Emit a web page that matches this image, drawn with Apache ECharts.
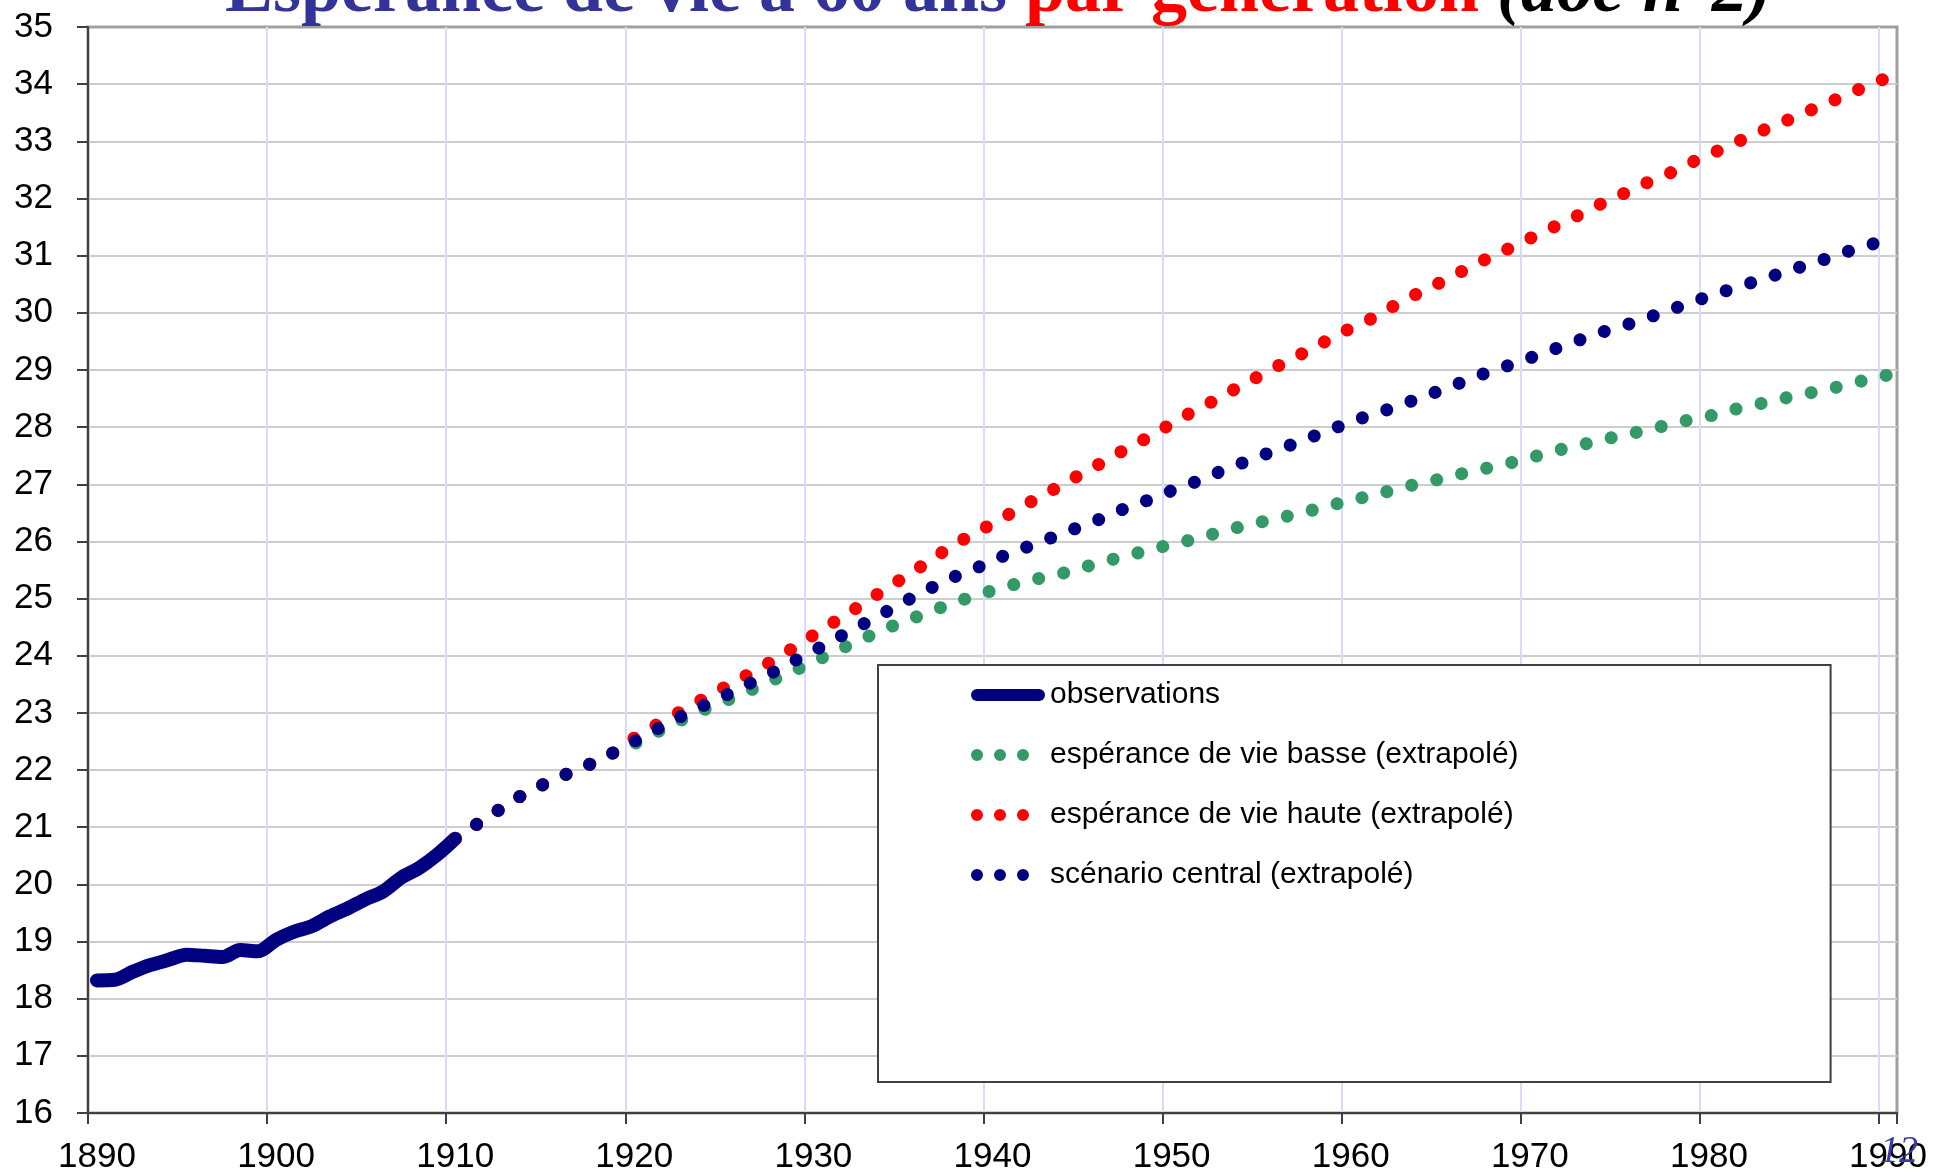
<!DOCTYPE html>
<html>
<head>
<meta charset="utf-8">
<script src="https://cdn.jsdelivr.net/npm/echarts@6/dist/echarts.min.js"></script>
<style>
html, body { margin: 0; padding: 0; background: #ffffff; }
#chart { width: 1952px; height: 1175px; }
</style>
</head>
<body>
<div id="chart"></div>
<script>
// Generation years (category axis)
const categories = [
  '1890','1891','1892','1893','1894','1895','1896','1897','1898','1899',
  '1900','1901','1902','1903','1904','1905','1906','1907','1908','1909',
  '1910','1911','1912','1913','1914','1915','1916','1917','1918','1919',
  '1920','1921','1922','1923','1924','1925','1926','1927','1928','1929',
  '1930','1931','1932','1933','1934','1935','1936','1937','1938','1939',
  '1940','1941','1942','1943','1944','1945','1946','1947','1948','1949',
  '1950','1951','1952','1953','1954','1955','1956','1957','1958','1959',
  '1960','1961','1962','1963','1964','1965','1966','1967','1968','1969',
  '1970','1971','1972','1973','1974','1975','1976','1977','1978','1979',
  '1980','1981','1982','1983','1984','1985','1986','1987','1988','1989',
  '1990'
];

// Observations, generations 1890 to 1910
const observations = [
  18.32, 18.33, 18.47, 18.59, 18.68, 18.77, 18.75, 18.73, 18.85, 18.83,
  19.03, 19.17, 19.27, 19.44, 19.58, 19.74, 19.88, 20.12, 20.29, 20.52,
  20.80
];

// Extrapolated series, generations 1910 to 1990
const basse = [
  20.80, 21.01, 21.21, 21.42, 21.61, 21.76, 21.90, 22.03, 22.17, 22.33,
  22.46, 22.62, 22.78, 22.93, 23.07, 23.20, 23.33, 23.47, 23.61, 23.75,
  23.89, 24.04, 24.19, 24.33, 24.47, 24.59, 24.71, 24.83, 24.94, 25.05,
  25.14, 25.23, 25.31, 25.38, 25.45, 25.54, 25.63, 25.71, 25.79, 25.87,
  25.95, 26.02, 26.10, 26.19, 26.27, 26.34, 26.41, 26.48, 26.56, 26.64,
  26.72, 26.79, 26.87, 26.95, 27.03, 27.09, 27.17, 27.24, 27.31, 27.38,
  27.46, 27.55, 27.63, 27.70, 27.77, 27.85, 27.91, 27.98, 28.07, 28.13,
  28.19, 28.28, 28.35, 28.42, 28.49, 28.56, 28.62, 28.69, 28.76, 28.85,
  28.91
];
const haute = [
  20.80, 21.01, 21.21, 21.42, 21.61, 21.76, 21.90, 22.03, 22.17, 22.33,
  22.56, 22.75, 22.92, 23.10, 23.27, 23.44, 23.61, 23.78, 23.96, 24.16,
  24.36, 24.56, 24.75, 24.96, 25.16, 25.36, 25.56, 25.77, 25.97, 26.14,
  26.31, 26.49, 26.67, 26.84, 27.01, 27.19, 27.36, 27.54, 27.70, 27.88,
  28.06, 28.24, 28.40, 28.57, 28.75, 28.91, 29.08, 29.24, 29.40, 29.57,
  29.73, 29.87, 30.05, 30.22, 30.38, 30.53, 30.69, 30.86, 31.00, 31.15,
  31.30, 31.45, 31.60, 31.75, 31.91, 32.05, 32.20, 32.34, 32.47, 32.63,
  32.76, 32.91, 33.05, 33.19, 33.32, 33.45, 33.59, 33.72, 33.86, 33.99,
  34.12
];
const central = [
  20.80, 21.01, 21.21, 21.42, 21.61, 21.76, 21.90, 22.03, 22.17, 22.33,
  22.50, 22.67, 22.84, 23.00, 23.15, 23.29, 23.45, 23.60, 23.75, 23.92,
  24.08, 24.26, 24.42, 24.59, 24.76, 24.93, 25.10, 25.25, 25.40, 25.52,
  25.66, 25.80, 25.91, 26.03, 26.15, 26.27, 26.39, 26.53, 26.64, 26.76,
  26.89, 27.00, 27.13, 27.26, 27.38, 27.50, 27.61, 27.73, 27.85, 27.97,
  28.09, 28.20, 28.30, 28.41, 28.53, 28.64, 28.76, 28.89, 28.99, 29.10,
  29.21, 29.32, 29.44, 29.55, 29.66, 29.75, 29.85, 29.96, 30.07, 30.18,
  30.29, 30.39, 30.49, 30.59, 30.69, 30.79, 30.89, 30.99, 31.10, 31.19,
  31.29
];

const yTicks = { min: 16, max: 35, interval: 1 };
const obsStart = '1890';
const extrapStart = '1910';

const seriesNames = [
  'observations',
  'espérance de vie basse (extrapolé)',
  'espérance de vie haute (extrapolé)',
  'scénario central (extrapolé)'
];

function placeOn(values, startYear) {
  const start = categories.indexOf(startYear);
  return categories.map(function (c, i) {
    const k = i - start;
    return (k >= 0 && k < values.length) ? values[k] : null;
  });
}

const lineIcon = 'path://M6,0 L68,0 A6,6 0 0 1 68,12 L6,12 A6,6 0 0 1 6,0 Z';
const dotsIcon = 'path://M74,12 M0,0 M0,6 A6,6 0 1 0 12,6 A6,6 0 1 0 0,6 Z ' +
  'M23,6 A6,6 0 1 0 35,6 A6,6 0 1 0 23,6 Z ' +
  'M46,6 A6,6 0 1 0 58,6 A6,6 0 1 0 46,6 Z';

const dotLine = function (color, gap) {
  return { color: color, width: 13, type: [0.1, gap], cap: 'round', join: 'round' };
};

const axisFont = '"Liberation Sans", Arial, sans-serif';
const titleFont = '"Liberation Serif", "Times New Roman", serif';

const chart = echarts.init(document.getElementById('chart'), null, { renderer: 'canvas' });
chart.setOption({
  animation: false,
  backgroundColor: '#ffffff',
  title: [{
    text: '{a|Espérance de vie à 60 ans }{b|par génération }{c|(doc n°2)}',
    left: 225,
    top: -44,
    padding: 0,
    z: 20,
    textStyle: {
      rich: {
        a: { color: '#333399', fontSize: 72, lineHeight: 72, fontWeight: 'bold', fontFamily: titleFont },
        b: { color: '#ff0000', fontSize: 72, lineHeight: 72, fontWeight: 'bold', fontFamily: titleFont },
        c: { color: '#000000', fontSize: 72, lineHeight: 72, fontWeight: 'bold', fontStyle: 'italic', fontFamily: titleFont }
      }
    }
  }, {
    text: '12',
    left: 1880,
    top: 1133,
    padding: 0,
    z: 20,
    textStyle: { color: '#3b3bb0', fontSize: 38, fontStyle: 'italic', fontWeight: 'normal', fontFamily: titleFont }
  }],
  grid: {
    left: 88, right: 55, top: 27, bottom: 60,
    show: true, borderColor: '#a0a0a0', borderWidth: 3, backgroundColor: 'transparent'
  },
  legend: {
    orient: 'vertical',
    left: 878,
    top: 665,
    padding: [15, 312, 192, 93],
    itemGap: 30,
    itemWidth: 74,
    itemHeight: 12,
    backgroundColor: '#ffffff',
    borderColor: '#404040',
    borderWidth: 2,
    borderRadius: 0,
    selectedMode: false,
    z: 10,
    itemStyle: { borderWidth: 0 },
    textStyle: { color: '#000000', fontSize: 30, fontFamily: axisFont },
    data: [
      { name: seriesNames[0], icon: lineIcon },
      { name: seriesNames[1], icon: dotsIcon },
      { name: seriesNames[2], icon: dotsIcon },
      { name: seriesNames[3], icon: dotsIcon }
    ]
  },
  xAxis: {
    type: 'category',
    data: categories,
    boundaryGap: true,
    axisLine: { show: true, lineStyle: { color: '#404040', width: 2 } },
    axisTick: { show: true, interval: 9, alignWithLabel: false, length: 11, lineStyle: { color: '#404040', width: 2 } },
    axisLabel: { interval: 9, margin: 27, color: '#000000', fontSize: 35, fontFamily: axisFont },
    splitLine: { show: true, interval: 9, showMinLine: false, showMaxLine: false, lineStyle: { color: '#dadaff', width: 2 } }
  },
  yAxis: {
    type: 'value',
    min: yTicks.min,
    max: yTicks.max,
    interval: yTicks.interval,
    axisLine: { show: true, lineStyle: { color: '#404040', width: 2 } },
    axisTick: { show: true, inside: false, length: 11, lineStyle: { color: '#404040', width: 2 } },
    axisLabel: { margin: 35, color: '#000000', fontSize: 35, fontFamily: axisFont },
    splitLine: { show: true, showMinLine: false, showMaxLine: false, lineStyle: { color: '#cdcdcd', width: 2 } }
  },
  series: [
    {
      name: seriesNames[0],
      type: 'line',
      data: placeOn(observations, obsStart),
      showSymbol: false,
      symbol: 'none',
      smooth: 0.3,
      connectNulls: false,
      itemStyle: { color: '#000080' },
      lineStyle: { color: '#000080', width: 14, cap: 'round', join: 'round' },
      emphasis: { disabled: true },
      z: 3
    },
    {
      name: seriesNames[1],
      type: 'line',
      data: placeOn(basse, extrapStart),
      showSymbol: false,
      symbol: 'none',
      itemStyle: { color: '#339966' },
      lineStyle: dotLine('#339966', 25.54),
      emphasis: { disabled: true },
      z: 4
    },
    {
      name: seriesNames[2],
      type: 'line',
      data: placeOn(haute, extrapStart),
      showSymbol: false,
      symbol: 'none',
      itemStyle: { color: '#ff0000' },
      lineStyle: dotLine('#ff0000', 25.6),
      emphasis: { disabled: true },
      z: 5
    },
    {
      name: seriesNames[3],
      type: 'line',
      data: placeOn(central, extrapStart),
      showSymbol: false,
      symbol: 'none',
      itemStyle: { color: '#000080' },
      lineStyle: dotLine('#000080', 25.6),
      emphasis: { disabled: true },
      z: 6
    }
  ]
});
</script>
</body>
</html>
